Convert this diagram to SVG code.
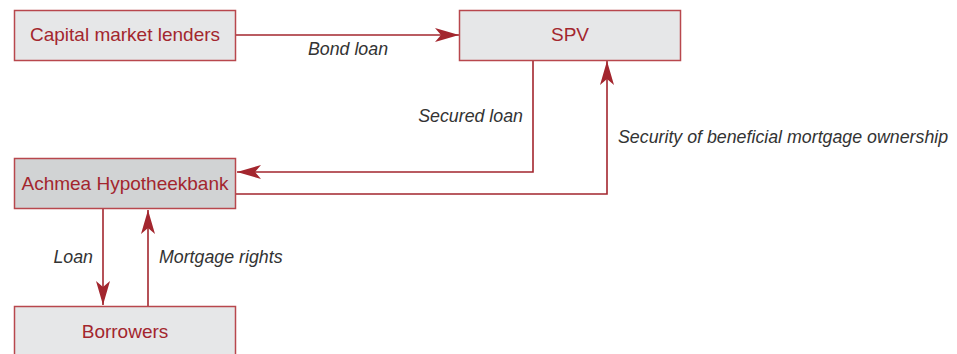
<svg xmlns="http://www.w3.org/2000/svg" width="957" height="354" viewBox="0 0 957 354">
<style>
.box{fill:#e6e7e8;stroke:#b8474d;stroke-width:1.5}
.dark{fill:#d1d3d4}
.nt{font-family:"Liberation Sans",Arial,sans-serif;font-size:19px;fill:#a3262e;text-anchor:middle}
.lb{font-family:"Liberation Sans",Arial,sans-serif;font-size:17.8px;font-style:italic;fill:#333}
.ln{fill:none;stroke:#a3262e;stroke-width:1.6}
</style>
<defs>
<marker id="ah" viewBox="0 0 24 14" refX="24" refY="7" markerWidth="24" markerHeight="14" markerUnits="userSpaceOnUse" orient="auto">
<path d="M0,0 L24,7 L0,14 L6,7 Z" fill="#a3262e"/>
</marker>
</defs>
<rect width="957" height="354" fill="#fff"/>
<g id="connectors">
<line class="ln" x1="236" y1="35" x2="459" y2="35" marker-end="url(#ah)"/>
<polyline class="ln" points="533,60 533,172 237,172" marker-end="url(#ah)"/>
<polyline class="ln" points="236,194 607,194 607,61" marker-end="url(#ah)"/>
<line class="ln" x1="103" y1="209" x2="103" y2="305" marker-end="url(#ah)"/>
<line class="ln" x1="148" y1="306" x2="148" y2="210" marker-end="url(#ah)"/>
<text class="lb" x="348" y="55" text-anchor="middle">Bond loan</text>
<text class="lb" x="523" y="122" text-anchor="end">Secured loan</text>
<text class="lb" x="618" y="143">Security of beneficial mortgage ownership</text>
<text class="lb" x="93" y="263" text-anchor="end">Loan</text>
<text class="lb" x="159" y="263">Mortgage rights</text>
</g>
<g id="capital">
<rect class="box" x="14.5" y="10.5" width="221" height="50"/>
<text class="nt" x="125" y="41">Capital market lenders</text>
</g>
<g id="spv">
<rect class="box" x="459.5" y="10.5" width="221" height="50"/>
<text class="nt" x="570" y="41">SPV</text>
</g>
<g id="achmea">
<rect class="box dark" x="14.5" y="158.5" width="221" height="50"/>
<text class="nt" x="125" y="190">Achmea Hypotheekbank</text>
</g>
<g id="borrowers">
<rect class="box" x="14.5" y="306.5" width="221" height="60"/>
<text class="nt" x="125" y="338">Borrowers</text>
</g>
</svg>
